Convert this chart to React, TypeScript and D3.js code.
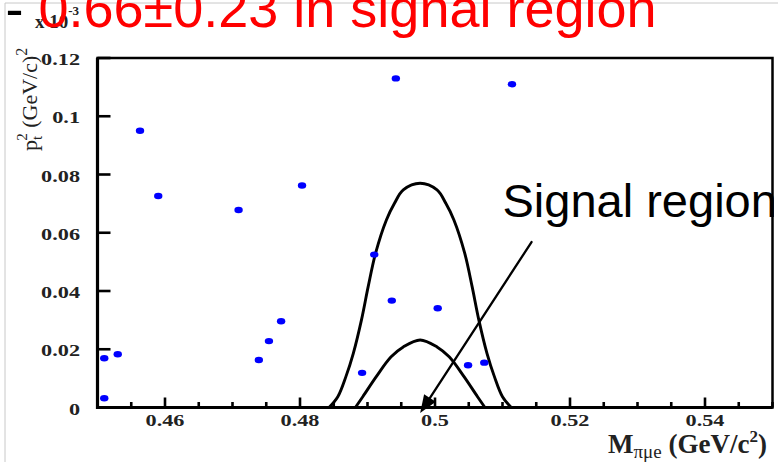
import React from "react";
import * as d3 from "d3";

const W = 778;
const H = 462;

// Candidate events: invariant mass (GeV/c^2) and pt^2 ((GeV/c)^2)
const eventMass = [
  0.4563, 0.4590, 0.4709, 0.4803, 0.4510, 0.4530, 0.4510, 0.4739, 0.4754,
  0.4772, 0.4942, 0.5114, 0.4910, 0.4936, 0.5004, 0.4892, 0.5049, 0.5073,
];
const eventPt2 = [
  0.0950, 0.0726, 0.0678, 0.0762, 0.0169, 0.0183, 0.0032, 0.0163, 0.0228,
  0.0296, 0.1130, 0.1110, 0.0525, 0.0367, 0.0341, 0.0119, 0.0145, 0.0154,
];

// Outer signal-region contour
const outerMass = [
  0.4843, 0.4856, 0.4868, 0.4879, 0.4891, 0.4901, 0.4912, 0.4928, 0.4940, 0.4953,
  0.4978, 0.5003, 0.5016, 0.5028, 0.5044, 0.5055, 0.5065, 0.5077, 0.5088, 0.5100, 0.5113,
];
const outerPt2 = [
  0.0, 0.0037, 0.0106, 0.0186, 0.0300, 0.0415, 0.0530, 0.0644, 0.0701, 0.0747,
  0.0770, 0.0747, 0.0701, 0.0644, 0.0530, 0.0415, 0.0300, 0.0186, 0.0106, 0.0037, 0.0,
];

// Inner signal-region contour
const innerMass = [0.4882, 0.4893, 0.4913, 0.4935, 0.4953, 0.4978, 0.5003, 0.5021, 0.5043, 0.5063, 0.5074];
const innerPt2 = [0.0, 0.0037, 0.0106, 0.0174, 0.0208, 0.0232, 0.0208, 0.0174, 0.0106, 0.0037, 0.0];

const xTickValues = [0.46, 0.48, 0.5, 0.52, 0.54];
const xTickLabels = ["0.46", "0.48", "0.5", "0.52", "0.54"];
const yTickValues = [0, 0.02, 0.04, 0.06, 0.08, 0.1, 0.12];
const yTickLabels = ["0", "0.02", "0.04", "0.06", "0.08", "0.1", "0.12"];

// Annotation arrow, in data coordinates
const arrowFrom = [0.5143, 0.0568];
const arrowTo = [0.4978, -0.0019];

const SERIF = "'Liberation Serif', 'Times New Roman', serif";
const SANS = "'Liberation Sans', Arial, sans-serif";

export default function App() {
  const x = d3.scaleLinear().domain([0.45, 0.55]).range([97.5, 772.5]);
  const y = d3.scaleLinear().domain([0, 0.12]).range([407.5, 58]);

  const minorTicks = x
    .ticks(20)
    .filter((t) => !xTickValues.some((m) => Math.abs(m - t) < 1e-6));

  const line = d3
    .line<[number, number]>()
    .x((d) => x(d[0]))
    .y((d) => y(d[1]))
    .curve(d3.curveCatmullRom.alpha(0.5));

  const outerPath = line(outerMass.map((m, i) => [m, outerPt2[i]]) as [number, number][]) || "";
  const innerPath = line(innerMass.map((m, i) => [m, innerPt2[i]]) as [number, number][]) || "";

  // arrow geometry
  const ax0 = x(arrowFrom[0]);
  const ay0 = y(arrowFrom[1]);
  const ax1 = x(arrowTo[0]);
  const ay1 = y(arrowTo[1]);
  const len = Math.hypot(ax1 - ax0, ay1 - ay0);
  const ux = (ax1 - ax0) / len;
  const uy = (ay1 - ay0) / len;
  const headL = 18;
  const headW = 7;
  const bx = ax1 - ux * headL;
  const by = ay1 - uy * headL;
  const head = `M${ax1},${ay1} L${bx - uy * headW},${by + ux * headW} L${bx + uy * headW},${by - ux * headW} Z`;

  const sx = 1.27;

  return (
    <div style={{ position: "absolute", left: 0, top: 0 }}>
      <svg width={W} height={H} style={{ display: "block", background: "#fff" }}>
        <defs>
          <clipPath id="textClip">
            <rect x={0} y={0} width={774} height={H} />
          </clipPath>
        </defs>

        {/* outer border */}
        <line x1={5} y1={3} x2={W} y2={3} stroke="#c8c8c8" strokeWidth={1} />
        <line x1={5} y1={3} x2={5} y2={H} stroke="#c8c8c8" strokeWidth={1} />

        {/* multiplier label */}
        <text x={35} y={28} fontFamily={SERIF} fontWeight="bold" fontSize={19} fill="#222">
          x 10
          <tspan fontSize={13} dy={-13}>-3</tspan>
        </text>

        {/* heading */}
        <text x={5.5} y={27} fontFamily={SANS} fontSize={54}>
          <tspan fill="#000">-</tspan>
          <tspan fill="#ff0000"> 0.66±0.23 in signal region</tspan>
        </text>

        {/* frame */}
        <rect
          x={x(0.45)}
          y={y(0.12)}
          width={x(0.55) - x(0.45)}
          height={y(0) - y(0.12)}
          fill="none"
          stroke="#000"
          strokeWidth={2.5}
        />
        <line x1={x(0.45)} y1={y(0.12)} x2={x(0.45)} y2={y(0) + 1.5} stroke="#000" strokeWidth={3.2} />
        <line x1={x(0.45) - 1.5} y1={y(0)} x2={x(0.55)} y2={y(0)} stroke="#000" strokeWidth={3.2} />

        {/* x ticks */}
        {xTickValues.map((t) => (
          <line key={"xM" + t} x1={x(t)} x2={x(t)} y1={y(0)} y2={y(0) - 10} stroke="#000" strokeWidth={2.6} />
        ))}
        {minorTicks.map((t) => (
          <line key={"xm" + t} x1={x(t)} x2={x(t)} y1={y(0)} y2={y(0) - 5.5} stroke="#000" strokeWidth={2.6} />
        ))}
        {xTickValues.map((t, i) => (
          <text
            key={"xl" + t}
            transform={`translate(${x(t)},426) scale(${sx},1)`}
            textAnchor="middle"
            fontFamily={SERIF}
            fontWeight="bold"
            fontSize={17.5}
            fill="#222"
          >
            {xTickLabels[i]}
          </text>
        ))}

        {/* y ticks */}
        {yTickValues.map((t) => (
          <line key={"yM" + t} x1={x(0.45)} x2={x(0.45) + 13} y1={y(t)} y2={y(t)} stroke="#000" strokeWidth={2.6} />
        ))}
        {yTickValues.map((t, i) => (
          <text
            key={"yl" + t}
            transform={`translate(80,${y(t) + 7}) scale(${sx},1)`}
            textAnchor="end"
            fontFamily={SERIF}
            fontWeight="bold"
            fontSize={17.5}
            fill="#222"
          >
            {yTickLabels[i]}
          </text>
        ))}

        {/* axis titles */}
        <text x={608} y={453} fontFamily={SERIF} fontSize={27} fontWeight="bold" fill="#222">
          M
          <tspan fontSize={19} fontWeight="normal" dy={5}>πμe</tspan>
          <tspan dy={-5}> (GeV/c</tspan>
          <tspan fontSize={17} dy={-11}>2</tspan>
          <tspan dy={11}>)</tspan>
        </text>
        <text
          transform="translate(37,151) rotate(-90)"
          fontFamily={SERIF}
          fontSize={22}
          fill="#222"
        >
          p
          <tspan fontSize={15} dy={5}>t</tspan>
          <tspan fontSize={15} dx={-5} dy={-15}>2</tspan>
          <tspan dy={10}> (GeV/c)</tspan>
          <tspan fontSize={16} dy={-10}>2</tspan>
        </text>

        {/* signal-region contours */}
        <path d={outerPath} fill="none" stroke="#000" strokeWidth={2.9} />
        <path d={innerPath} fill="none" stroke="#000" strokeWidth={2.9} />

        {/* events */}
        {eventMass.map((m, i) => (
          <ellipse key={"e" + i} cx={x(m)} cy={y(eventPt2[i])} rx={4.2} ry={3.2} fill="#0000ff" />
        ))}

        {/* annotation */}
        <text x={502.5} y={217} fontFamily={SANS} fontSize={47} fill="#000" clipPath="url(#textClip)">
          Signal region
        </text>
        <line x1={ax0} y1={ay0} x2={bx} y2={by} stroke="#000" strokeWidth={2.3} strokeLinecap="round" />
        <path d={head} fill="#000" />
      </svg>
    </div>
  );
}
